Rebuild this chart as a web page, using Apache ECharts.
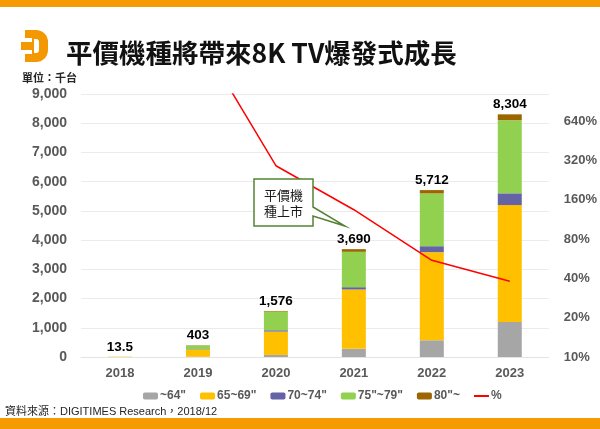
<!DOCTYPE html>
<html><head><meta charset="utf-8">
<script src="https://cdn.jsdelivr.net/npm/echarts@6/dist/echarts.min.js"></script>
<style>html,body{margin:0;padding:0;background:#fff}#c{width:600px;height:429px}</style>
</head><body><div id="c"></div>
<script>
const years = ['2018', '2019', '2020', '2021', '2022', '2023'];
const s64 = [0.5, 10, 70, 280, 572, 1200];
const s65 = [10, 240, 800, 2030, 3015, 4000];
const s70 = [0.5, 15, 45, 80, 205, 400];
const s75 = [2, 130, 640, 1210, 1805, 2504];
const s80 = [0.5, 8, 21, 90, 115, 200];
const totals = [13.5, 403, 1576, 3690, 5712, 8304];
const growth = [null, 2885, 291, 134, 55, 38];
const seriesNames = ['~64"', '65~69"', '70~74"', '75"~79"', '80"~', '%'];

const FONT = "'Liberation Sans', 'Noto Sans CJK TC', sans-serif";
const CJK = "'Noto Sans CJK TC', 'Liberation Sans', sans-serif";
const GRAY = '#595959';
const colors = ['#A6A6A6', '#FFC000', '#6363A6', '#92D050', '#9C6500'];
const barData = [s64, s65, s70, s75, s80];

const chart = echarts.init(document.getElementById('c'), null, {renderer: 'canvas'});

const bars = barData.map((d, i) => ({
  name: seriesNames[i],
  type: 'bar',
  stack: 'total',
  barWidth: 24,
  yAxisIndex: 0,
  itemStyle: {color: colors[i]},
  data: d,
  label: i === 4 ? {
    show: true,
    position: 'top',
    distance: 3,
    color: '#000',
    fontSize: 13.5,
    fontWeight: 'bold',
    fontFamily: FONT,
    formatter: p => {
      const v = totals[p.dataIndex];
      return v >= 1000 ? v.toLocaleString('en-US') : String(v);
    }
  } : {show: false}
}));

const legendData = seriesNames.map(n => n === '%'
  ? {name: n, icon: 'path://M0,0 L15,0 L15,2 L0,2 Z'}
  : {name: n});

const option = {
  backgroundColor: '#fff',
  animation: false,
  grid: {left: 81, right: 51, top: 94, bottom: 72},
  legend: {
    left: 138, top: 385,
    itemWidth: 15, itemHeight: 7, itemGap: 14,
    textStyle: {color: GRAY, fontSize: 12, fontWeight: 'bold', fontFamily: FONT, padding: [0, 0, 0, -3]},
    data: legendData
  },
  xAxis: {
    type: 'category',
    data: years,
    axisTick: {show: false},
    axisLine: {lineStyle: {color: '#E3E3E3'}},
    axisLabel: {color: GRAY, fontSize: 13, fontWeight: 'bold', fontFamily: FONT, margin: 10}
  },
  yAxis: [{
    type: 'value',
    min: 0, max: 9000, interval: 1000,
    axisLine: {show: false},
    axisTick: {show: false},
    splitLine: {lineStyle: {color: '#EBEBEB'}},
    axisLabel: {color: GRAY, fontSize: 14, fontWeight: 'bold', fontFamily: FONT, margin: 14,
      formatter: v => v.toLocaleString('en-US')}
  }, {
    type: 'log',
    logBase: 2,
    min: 10, max: 1030, interval: 1,
    axisLine: {show: false},
    axisTick: {show: false},
    splitLine: {show: false},
    axisLabel: {color: GRAY, fontSize: 13, fontWeight: 'bold', fontFamily: FONT, margin: 15,
      showMaxLabel: false,
      formatter: v => v > 1000 ? '' : (Math.round(v / 10) * 10) + '%'}
  }],
  series: bars.concat([{
    name: '%',
    type: 'line',
    yAxisIndex: 1,
    symbol: 'none',
    lineStyle: {color: '#FF0000', width: 1.5},
    itemStyle: {color: '#FF0000'},
    z: 5,
    data: growth
  }]),
  graphic: [
    {type: 'rect', shape: {x: 0, y: 0, width: 600, height: 7}, style: {fill: '#F59A00'}, z: 10},
    {type: 'rect', shape: {x: 0, y: 418, width: 600, height: 11}, style: {fill: '#F59A00'}, z: 10},
    {type: 'group', x: 21, y: 30, z: 10, children: [
      {type: 'rect', shape: {x: 4, y: 0, width: 23, height: 32, r: [0, 12, 12, 0]}, style: {fill: '#F39800'}},
      {type: 'rect', shape: {x: 13, y: 9, width: 5, height: 14, r: [0, 3, 3, 0]}, style: {fill: '#fff'}},
      {type: 'rect', shape: {x: 0, y: 8, width: 11, height: 4}, style: {fill: '#fff'}},
      {type: 'rect', shape: {x: 0, y: 20, width: 11, height: 4}, style: {fill: '#fff'}},
      {type: 'rect', shape: {x: 0, y: 12, width: 5, height: 8}, style: {fill: '#fff'}},
      {type: 'rect', shape: {x: 0, y: 12, width: 9, height: 8}, style: {fill: '#F39800'}},
      {type: 'rect', shape: {x: 0, y: 0, width: 4, height: 8}, style: {fill: '#fff'}},
      {type: 'rect', shape: {x: 0, y: 24, width: 4, height: 8}, style: {fill: '#fff'}}
    ]},
    {type: 'text', x: 66, y: 53, z: 10, style: {text: '平價機種將帶來8K TV爆發式成長', fill: '#111',
      fontSize: 26.5, fontWeight: 'bold', fontFamily: CJK, verticalAlign: 'middle'}},
    {type: 'text', x: 22, y: 78, z: 10, style: {text: '單位：千台', fill: '#262626',
      fontSize: 11, fontWeight: 'bold', fontFamily: CJK, verticalAlign: 'middle'}},
    {type: 'text', x: 5, y: 412, z: 10, style: {text: '資料來源：DIGITIMES Research，2018/12', fill: '#262626',
      fontSize: 11, fontFamily: FONT, verticalAlign: 'middle'}},
    {type: 'polygon', z: 20, shape: {points: [[254, 179], [313, 179], [313, 207], [345, 226], [313, 216], [313, 226], [254, 226]]},
      style: {fill: '#fff', stroke: '#548235', lineWidth: 1.5}},
    {type: 'text', x: 283.5, y: 203, z: 21, style: {text: '平價機\n種上市', fill: '#1A1A1A', fontSize: 13,
      lineHeight: 16, fontFamily: CJK, align: 'center', verticalAlign: 'middle'}}
  ]
};
chart.setOption(option);
</script>
</body></html>
